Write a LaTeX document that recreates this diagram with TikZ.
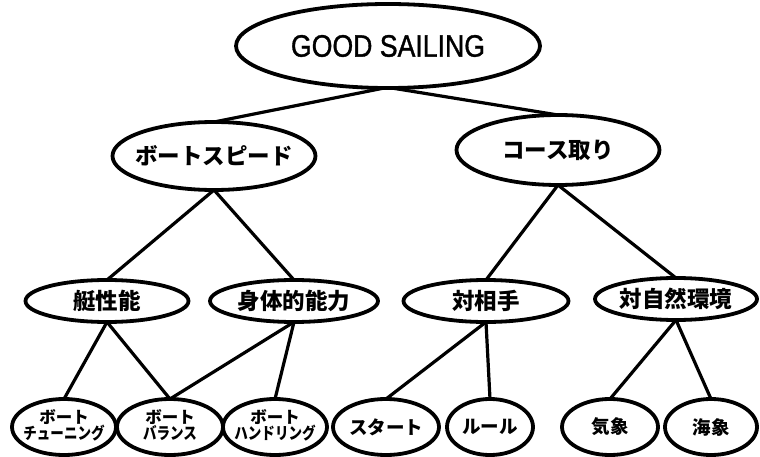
\documentclass[tikz,border=0pt]{standalone}
\usepackage{fontspec}
\setmainfont{Liberation Sans}
\newfontfamily\gsfont[FakeBold=1.2]{Liberation Sans}
\newfontfamily\jp{Noto Sans CJK JP}
\usetikzlibrary{shapes.geometric}
\tikzset{
  el/.style={ellipse, draw=black, line width=3.8pt, inner sep=0pt, outer sep=0pt},
  conn/.style={line width=3.2pt, line cap=round},
  big/.style={font=\gsfont\fontsize{31}{34}\selectfont},
  lv/.style={font=\jp\bfseries\fontsize{22.5}{26}\selectfont},
  sm/.style={font=\jp\bfseries\fontsize{18.5}{20}\selectfont},
  smt/.style={font=\jp\bfseries\fontsize{16.5}{18}\selectfont},
}
\newcommand{\zw}[1]{\makebox[0pt]{#1}}
\newcommand{\zwt}[2]{\makebox[0pt]{\begin{tabular}{@{}c@{}}#1\\[-4pt]\scalebox{0.82}[1]{#2}\end{tabular}}}
\begin{document}
\begin{tikzpicture}[x=1pt,y=-1pt]
\useasboundingbox (0,0) rectangle (760,457);
% level 0
\node[el, big, minimum width=304pt, minimum height=84pt] (gs) at (388,46) {\zw{\scalebox{0.86}[1]{GOOD SAILING}}};
% level 1
\node[el, lv, minimum width=203pt, minimum height=68pt] (bs) at (214,156) {\zw{ボートスピード}};
\node[el, lv, minimum width=203pt, minimum height=70pt] (ct) at (558,150) {\zw{コース取り}};
% level 2
\node[el, lv, minimum width=163pt, minimum height=42pt] (tei) at (107,301) {\zw{艇性能}};
\node[el, lv, minimum width=168pt, minimum height=42pt] (shin) at (294,301) {\zw{身体的能力}};
\node[el, lv, minimum width=165pt, minimum height=42pt] (tai) at (486,301) {\zw{対相手}};
\node[el, lv, minimum width=162pt, minimum height=42pt] (shi) at (676,299) {\zw{対自然環境}};
% level 3
\node[el, smt, minimum width=104pt, minimum height=56pt] (b1) at (64,427) {\zwt{ボート}{チューニング}};
\node[el, smt, minimum width=106pt, minimum height=56pt] (b2) at (170,427) {\zwt{ボート}{バランス}};
\node[el, smt, minimum width=104pt, minimum height=56pt] (b3) at (275,427) {\zwt{ボート}{ハンドリング}};
\node[el, sm, minimum width=106pt, minimum height=56pt] (st) at (386,427) {\zw{スタート}};
\node[el, sm, minimum width=86pt, minimum height=56pt] (ru) at (490,427) {\zw{ルール}};
\node[el, sm, minimum width=96pt, minimum height=56pt] (ki) at (610,427) {\zw{気象}};
\node[el, sm, minimum width=92pt, minimum height=56pt] (ka) at (711,427) {\zw{海象}};
% connectors
\draw[conn] (gs.-95) -- (bs.north);
\draw[conn] (gs.-85) -- (ct.north);
\draw[conn] (bs.south) -- (tei.north);
\draw[conn] (bs.south) -- (shin.north);
\draw[conn] (ct.south) -- (tai.north);
\draw[conn] (ct.south) -- (shi.north);
\draw[conn] (tei.south) -- (b1.north);
\draw[conn] (tei.south) -- (b2.north);
\draw[conn] (shin.south) -- (b2.north);
\draw[conn] (shin.south) -- (b3.north);
\draw[conn] (tai.south) -- (st.north);
\draw[conn] (tai.south) -- (ru.north);
\draw[conn] (shi.south) -- (ki.north);
\draw[conn] (shi.south) -- (ka.north);
\end{tikzpicture}
\end{document}
